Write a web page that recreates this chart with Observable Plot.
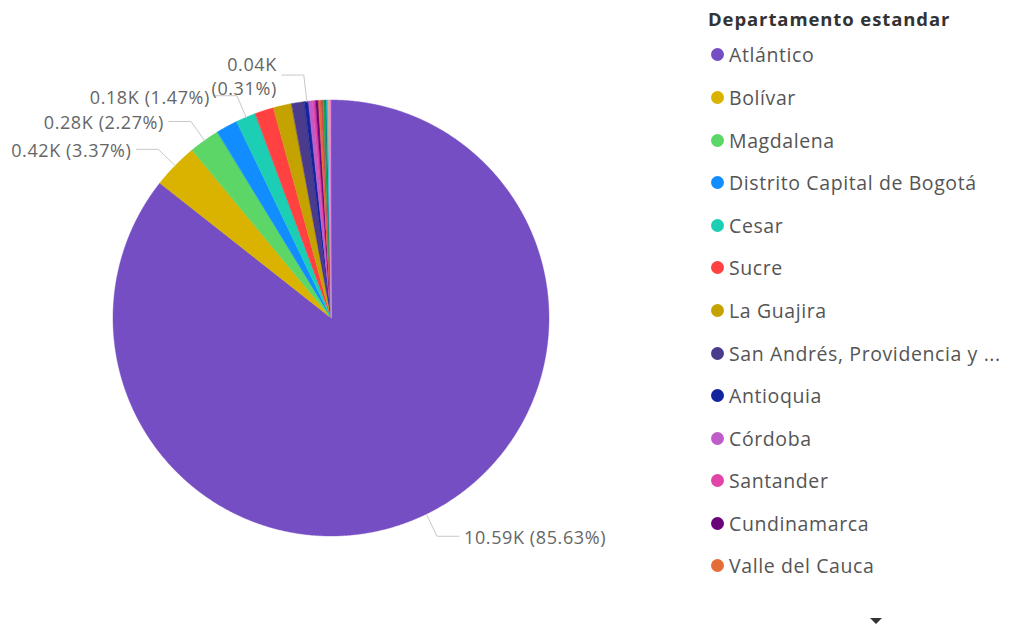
<!DOCTYPE html>
<html>
<head>
<meta charset="utf-8">
<script src="https://cdn.jsdelivr.net/npm/d3@7"></script>
<script src="https://cdn.jsdelivr.net/npm/@observablehq/plot@0.6"></script>
<style>
  html, body { margin: 0; padding: 0; background: #fff; }
  #wrap { position: relative; width: 1010px; height: 628px; overflow: hidden; font-family: "Open Sans", "Noto Sans", sans-serif; }
  #chart { position: absolute; left: 0; top: 0; }
  #legend { position: absolute; left: 706px; top: 0; width: 304px; }
  #legend .title { position: absolute; top: 6px; left: 2px; font-weight: 700; font-size: 18.5px; letter-spacing: 0.9px; color: #333; white-space: nowrap; }
  #legend .items { position: absolute; top: 33.7px; left: 0; }
  #legend .item { height: 42.58px; display: flex; align-items: center; white-space: nowrap; font-size: 19.5px; letter-spacing: 0.6px; color: #555; }
  #legend .dot { width: 13px; height: 13px; border-radius: 50%; margin-left: 5px; margin-right: 5px; flex: none; }
  #arrow { position: absolute; left: 870px; top: 618px; width: 0; height: 0; border-left: 6px solid transparent; border-right: 6px solid transparent; border-top: 6px solid #333; }
</style>
</head>
<body>
<div id="wrap">
  <div id="chart"></div>
  <div id="legend"><div class="title"></div><div class="items"></div></div>
  <div id="arrow"></div>
</div>
<script>
// ---- Data ----
const legendTitle = "Departamento estandar";
const departamentos = [
  "Atlántico", "Bolívar", "Magdalena", "Distrito Capital de Bogotá", "Cesar", "Sucre",
  "La Guajira", "San Andrés, Providencia y ...", "Antioquia", "Córdoba", "Santander",
  "Cundinamarca", "Valle del Cauca",
  // further categories hidden below the legend scroll (tiny slices)
  "Norte de Santander", "Nariño", "Risaralda", "Tolima", "Meta", "Quindío", "Caldas"
];
const casos = [10590, 417, 281, 198, 182, 173, 167, 117, 38, 35, 30, 25, 22, 20, 17, 15, 15, 12, 7, 6];
const colores = [
  "#744EC2", "#D9B300", "#5BD667", "#118DFF", "#1CCFB4", "#FF4141",
  "#C4A200", "#4A3B8C", "#12239E", "#BE5DC9", "#E044A7",
  "#6B007B", "#E66C37",
  "#D64550", "#1AAB40", "#197278", "#15C6F4", "#FFA058", "#B5A1FF", "#F472D0"
];
const legendVisible = 13;
const etiquetados = ["Atlántico", "Bolívar", "Magdalena", "Cesar", "Antioquia"];

// ---- Layout ----
const W = 1010, H = 628, cx = 331, cy = 318, R = 218, rElbow = 242, hLen = 22, gap = 5;
const total = d3.sum(casos);
const pt = (a, r) => [cx + r * Math.sin(a), cy - r * Math.cos(a)];

let acc = 0;
const slices = departamentos.map((name, i) => {
  const a0 = acc / total * 2 * Math.PI; acc += casos[i];
  const a1 = acc / total * 2 * Math.PI;
  return {name, value: casos[i], a0, a1, color: colores[i]};
});

const arcPts = [];
for (const s of slices) {
  const n = Math.max(2, Math.ceil((s.a1 - s.a0) / (Math.PI / 720)));
  for (let k = 0; k <= n; k++) {
    const a = s.a0 + (s.a1 - s.a0) * k / n;
    const [x, y] = pt(a, R);
    arcPts.push({name: s.name, x, y});
  }
}

const fmtK = v => (v / 1000).toFixed(2) + "K";
const fmtP = v => (v / total * 100).toFixed(2) + "%";

const leaders = [], labels = [];
for (const s of slices.filter(s => etiquetados.includes(s.name))) {
  const m = (s.a0 + s.a1) / 2;
  const right = Math.sin(m) >= 0;
  const near = Math.abs(Math.sin(m)) < 0.15; // close to the top: label wraps
  const [x0, y0] = pt(m, R);
  const [x1, y1] = pt(m, near ? rElbow + 3 : rElbow);
  const x2 = x1 + (right ? hLen : -hLen);
  leaders.push({k: s.name, x: x0, y: y0}, {k: s.name, x: x1, y: y1}, {k: s.name, x: x2, y: y1});
  const text = near ? `${fmtK(s.value)}\n(${fmtP(s.value)})` : `${fmtK(s.value)} (${fmtP(s.value)})`;
  labels.push({x: x2 + (right ? gap : -gap), y: y1, text, right});
}

const plot = Plot.plot({
  width: W, height: H,
  margin: 0,
  x: {domain: [0, W], range: [0, W], axis: null},
  y: {domain: [0, H], range: [0, H], axis: null},
  color: {domain: departamentos, range: colores, legend: false},
  style: {fontFamily: "'Open Sans', 'Noto Sans', sans-serif", background: "#fff", letterSpacing: "0.6px"},
  marks: [
    Plot.area(arcPts, {x1: "x", y1: "y", x2: cx, y2: cy, z: "name", fill: "name", stroke: "name", strokeWidth: 0.4}),
    Plot.line(leaders, {x: "x", y: "y", z: "k", stroke: "#c8c8c8", strokeWidth: 1}),
    Plot.text(labels.filter(d => d.right), {x: "x", y: "y", text: "text", textAnchor: "start", fontSize: 18, fill: "#666", lineHeight: 1.35}),
    Plot.text(labels.filter(d => !d.right), {x: "x", y: "y", text: "text", textAnchor: "end", fontSize: 18, fill: "#666", lineHeight: 1.35})
  ]
});
document.getElementById("chart").appendChild(plot);

// ---- Legend ----
document.querySelector("#legend .title").textContent = legendTitle;
const items = document.querySelector("#legend .items");
departamentos.slice(0, legendVisible).forEach((d, i) => {
  const el = document.createElement("div");
  el.className = "item";
  const dot = document.createElement("span");
  dot.className = "dot"; dot.style.background = colores[i];
  const t = document.createElement("span");
  t.textContent = d;
  el.appendChild(dot); el.appendChild(t);
  items.appendChild(el);
});
</script>
</body>
</html>
